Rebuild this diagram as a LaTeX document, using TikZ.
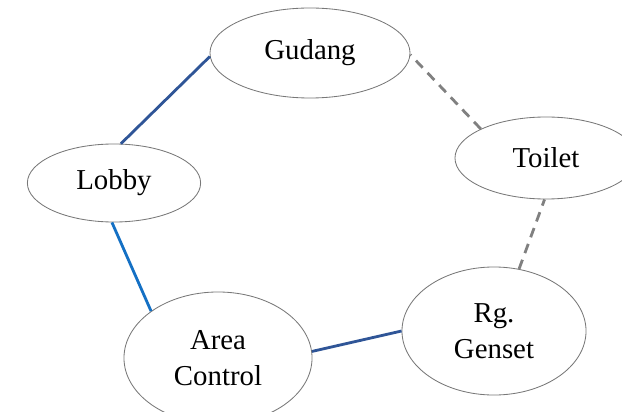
\documentclass[tikz,border=0pt]{standalone}
\usepackage{fontspec}
\setmainfont{Liberation Serif}
\definecolor{darkline}{RGB}{47,85,151}
\definecolor{lightline}{RGB}{20,112,196}
\definecolor{rimgray}{RGB}{120,120,120}
\definecolor{dashgray}{RGB}{128,128,128}
\tikzset{
  room/.style={ellipse,draw=rimgray,line width=0.6pt,fill=white,inner sep=0pt,
    align=center,font=\fontsize{20.5}{26}\selectfont},
  darklink/.style={draw=darkline,line width=2pt},
  lightlink/.style={draw=lightline,line width=2pt},
  dashlink/.style={draw=dashgray,line width=2pt,dash pattern=on 7pt off 5pt}
}
\usetikzlibrary{shapes.geometric}

\begin{document}
\begin{tikzpicture}[x=0.025cm,y=-0.025cm]
  \useasboundingbox (0,0) rectangle (622,412);
  % rooms
  \node[room,minimum width=5cm,minimum height=2.25cm] (gudang) at (310,53) {Gudang};
  \node[room,minimum width=4.55cm,minimum height=2.05cm] (toilet) at (546,158) {Toilet};
  \node[room,minimum width=4.33cm,minimum height=1.95cm] (lobby) at (114,183) {Lobby};
  \node[room,minimum width=4.7cm,minimum height=3.3cm] (area) at (218,358) {Area\\Control};
  \node[room,minimum width=4.6cm,minimum height=3.2cm] (genset) at (494,331) {Rg.\\Genset};
  % links
  \draw[darklink] (gudang.182) -- (lobby.80);
  \draw[lightlink] (lobby.267) -- (area.145);
  \draw[darklink] (area.4) -- (genset.180);
  \draw[dashlink] (genset.68) -- (toilet.268);
  \draw[dashlink] (toilet.156) -- (gudang.359);
\end{tikzpicture}
\end{document}
